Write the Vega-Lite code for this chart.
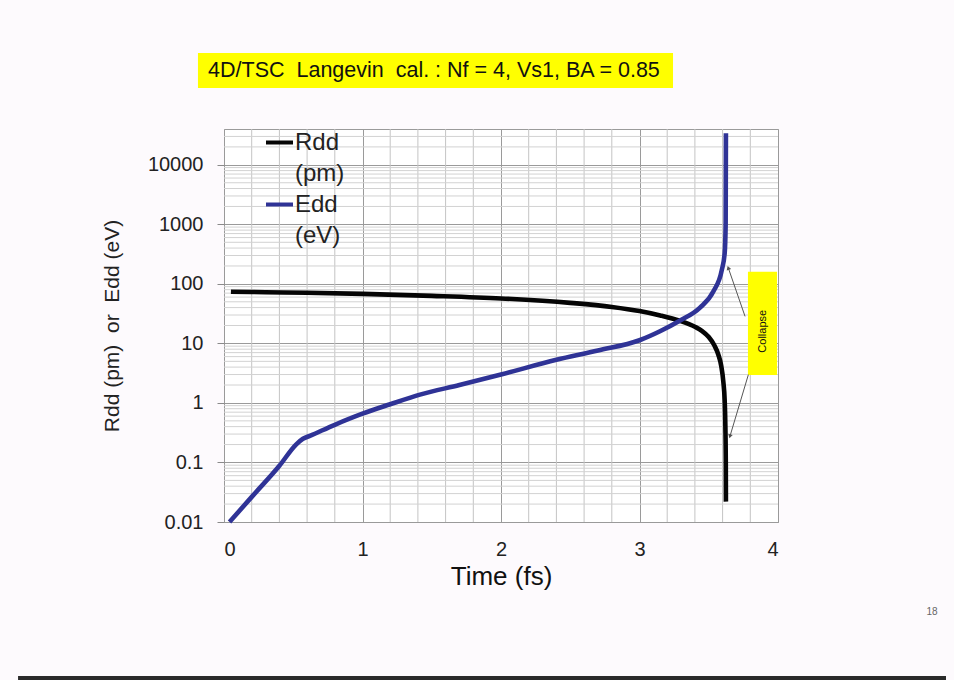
{
  "$schema": "https://vega.github.io/schema/vega-lite/v6.json",
  "width": 554,
  "height": 393,
  "autosize": {"type": "none"},
  "padding": {"left": 224, "top": 129, "right": 176, "bottom": 158},
  "background": "#fdfafd",
  "view": {"fill": "#ffffff", "stroke": "#9a9a9a", "strokeWidth": 1},
  "config": {"font": "Liberation Sans"},
  "datasets": {
    "curves": [
      {"series": "Rdd (pm)", "t": 0.05, "v": 74},
      {"series": "Rdd (pm)", "t": 0.3, "v": 72.5},
      {"series": "Rdd (pm)", "t": 0.6, "v": 71},
      {"series": "Rdd (pm)", "t": 1.0, "v": 68},
      {"series": "Rdd (pm)", "t": 1.5, "v": 63},
      {"series": "Rdd (pm)", "t": 2.0, "v": 57},
      {"series": "Rdd (pm)", "t": 2.5, "v": 48},
      {"series": "Rdd (pm)", "t": 2.8, "v": 41},
      {"series": "Rdd (pm)", "t": 3.0, "v": 35},
      {"series": "Rdd (pm)", "t": 3.15, "v": 29.5},
      {"series": "Rdd (pm)", "t": 3.29, "v": 24},
      {"series": "Rdd (pm)", "t": 3.4, "v": 19},
      {"series": "Rdd (pm)", "t": 3.45, "v": 16.3},
      {"series": "Rdd (pm)", "t": 3.5, "v": 12.8},
      {"series": "Rdd (pm)", "t": 3.54, "v": 9.3},
      {"series": "Rdd (pm)", "t": 3.57, "v": 6.4},
      {"series": "Rdd (pm)", "t": 3.59, "v": 4.2},
      {"series": "Rdd (pm)", "t": 3.605, "v": 2.3},
      {"series": "Rdd (pm)", "t": 3.615, "v": 1.1},
      {"series": "Rdd (pm)", "t": 3.62, "v": 0.4},
      {"series": "Rdd (pm)", "t": 3.623, "v": 0.1},
      {"series": "Rdd (pm)", "t": 3.624, "v": 0.022},
      {"series": "Edd (eV)", "t": 0.04, "v": 0.01},
      {"series": "Edd (eV)", "t": 0.21, "v": 0.028},
      {"series": "Edd (eV)", "t": 0.4, "v": 0.088},
      {"series": "Edd (eV)", "t": 0.52, "v": 0.2},
      {"series": "Edd (eV)", "t": 0.57, "v": 0.25},
      {"series": "Edd (eV)", "t": 0.62, "v": 0.28},
      {"series": "Edd (eV)", "t": 0.8, "v": 0.43},
      {"series": "Edd (eV)", "t": 1.0, "v": 0.66},
      {"series": "Edd (eV)", "t": 1.2, "v": 0.95},
      {"series": "Edd (eV)", "t": 1.415, "v": 1.38},
      {"series": "Edd (eV)", "t": 1.7, "v": 2.0},
      {"series": "Edd (eV)", "t": 2.0, "v": 3.0},
      {"series": "Edd (eV)", "t": 2.4, "v": 5.3},
      {"series": "Edd (eV)", "t": 2.7, "v": 7.6},
      {"series": "Edd (eV)", "t": 3.0, "v": 11.3},
      {"series": "Edd (eV)", "t": 3.148, "v": 16},
      {"series": "Edd (eV)", "t": 3.29, "v": 24},
      {"series": "Edd (eV)", "t": 3.437, "v": 40},
      {"series": "Edd (eV)", "t": 3.534, "v": 75},
      {"series": "Edd (eV)", "t": 3.594, "v": 170},
      {"series": "Edd (eV)", "t": 3.615, "v": 330},
      {"series": "Edd (eV)", "t": 3.622, "v": 1000},
      {"series": "Edd (eV)", "t": 3.624, "v": 34000}
    ],
    "xminor": [
      {"t": 0.2}, {"t": 0.4}, {"t": 0.6}, {"t": 0.8},
      {"t": 1.2}, {"t": 1.4}, {"t": 1.6}, {"t": 1.8},
      {"t": 2.2}, {"t": 2.4}, {"t": 2.6}, {"t": 2.8},
      {"t": 3.2}, {"t": 3.4}, {"t": 3.6}, {"t": 3.8}
    ],
    "yminor": [
      {"v": 0.02}, {"v": 0.03}, {"v": 0.04}, {"v": 0.05}, {"v": 0.06}, {"v": 0.07}, {"v": 0.08}, {"v": 0.09},
      {"v": 0.2}, {"v": 0.3}, {"v": 0.4}, {"v": 0.5}, {"v": 0.6}, {"v": 0.7}, {"v": 0.8}, {"v": 0.9},
      {"v": 2}, {"v": 3}, {"v": 4}, {"v": 5}, {"v": 6}, {"v": 7}, {"v": 8}, {"v": 9},
      {"v": 20}, {"v": 30}, {"v": 40}, {"v": 50}, {"v": 60}, {"v": 70}, {"v": 80}, {"v": 90},
      {"v": 200}, {"v": 300}, {"v": 400}, {"v": 500}, {"v": 600}, {"v": 700}, {"v": 800}, {"v": 900},
      {"v": 2000}, {"v": 3000}, {"v": 4000}, {"v": 5000}, {"v": 6000}, {"v": 7000}, {"v": 8000}, {"v": 9000},
      {"v": 20000}, {"v": 30000}
    ],
    "boxes": [
      {"name": "title", "t1": -0.188, "t2": 3.242, "v1": 195300, "v2": 756000},
      {"name": "collapse", "t1": 3.783, "t2": 3.993, "v1": 2.95, "v2": 160}
    ],
    "labels": [
      {"name": "title", "t": -0.115, "v": 376700, "text": "4D/TSC \u00a0Langevin \u00a0cal. : Nf = 4, Vs1, BA = 0.85"}
    ],
    "side": [
      {"t": 3.892, "v": 16, "text": "Collapse"}
    ],
    "arrows": [
      {"name": "up", "t1": 3.762, "v1": 28.5, "t2": 3.641, "v2": 186},
      {"name": "down", "t1": 3.786, "v1": 2.99, "t2": 3.653, "v2": 0.275}
    ],
    "page": [
      {"t": 5.112, "v": 0.000308, "text": "18"}
    ],
    "bar": [
      {"t1": -1.487, "t2": 5.213, "v": 0.000024}
    ]
  },
  "layer": [
    {
      "data": {"name": "xminor"},
      "mark": {"type": "rule", "color": "#c4c4c4", "strokeWidth": 1},
      "encoding": {
        "x": {"field": "t", "type": "quantitative", "scale": {"domain": [0, 4], "nice": false, "zero": false}}
      }
    },
    {
      "data": {"name": "yminor"},
      "mark": {"type": "rule", "color": "#d2d2d2", "strokeWidth": 1},
      "encoding": {
        "y": {"field": "v", "type": "quantitative", "scale": {"type": "log", "domain": [0.01, 40000], "nice": false}}
      }
    },
    {
      "data": {"name": "curves"},
      "mark": {"type": "line", "strokeWidth": 4.6, "interpolate": "monotone", "clip": false},
      "encoding": {
        "x": {
          "field": "t", "type": "quantitative",
          "scale": {"domain": [0, 4], "nice": false, "zero": false},
          "axis": {
            "values": [0, 1, 2, 3, 4], "format": "d", "grid": true, "gridColor": "#9a9a9a", "domain": false, "ticks": false,
            "labelFontSize": 20, "labelColor": "#222", "labelPadding": 17, "labelFont": "Liberation Sans",
            "title": "Time (fs)", "titleFontSize": 26, "titleFontWeight": "normal", "titleColor": "#111", "titlePadding": 4, "titleFont": "Liberation Sans"
          }
        },
        "y": {
          "field": "v", "type": "quantitative",
          "scale": {"type": "log", "domain": [0.01, 40000], "nice": false},
          "axis": {
            "values": [0.01, 0.1, 1, 10, 100, 1000, 10000], "format": "~g", "grid": true, "gridColor": "#9a9a9a", "domain": false,
            "ticks": true, "tickSize": 7, "tickColor": "#8a8a8a", "labelFontSize": 20, "labelColor": "#222", "labelPadding": 14, "labelFont": "Liberation Sans",
            "title": "Rdd (pm) \u00a0or \u00a0Edd (eV)", "titleFontSize": 21, "titleFontWeight": "normal", "titleColor": "#222", "titlePadding": 25, "titleFont": "Liberation Sans"
          }
        },
        "color": {
          "field": "series", "type": "nominal",
          "scale": {"domain": ["Rdd (pm)", "Edd (eV)"], "range": ["#050505", "#2f3396"]},
          "legend": {
            "title": null, "orient": "none", "legendX": 40, "legendY": -2,
            "symbolType": "stroke", "symbolSize": 729, "symbolStrokeWidth": 4,
            "labelFontSize": 24, "labelFont": "Liberation Sans", "labelColor": "#222",
            "labelExpr": "split(datum.label, ' ')", "labelOffset": 0, "rowPadding": 3, "padding": 0, "labelBaseline": "middle",
            "encode": {"labels": {"update": {"lineHeight": {"value": 31}}}}
          }
        }
      }
    },
    {
      "data": {"name": "boxes"},
      "mark": {"type": "rect", "color": "#ffff00", "clip": false},
      "encoding": {
        "x": {"field": "t1", "type": "quantitative"},
        "x2": {"field": "t2"},
        "y": {"field": "v1", "type": "quantitative"},
        "y2": {"field": "v2"}
      }
    },
    {
      "data": {"name": "labels"},
      "mark": {"type": "text", "align": "left", "baseline": "middle", "fontSize": 21.5, "font": "Liberation Sans", "color": "#111", "clip": false},
      "encoding": {
        "x": {"field": "t", "type": "quantitative"},
        "y": {"field": "v", "type": "quantitative"},
        "text": {"field": "text"}
      }
    },
    {
      "data": {"name": "side"},
      "mark": {"type": "text", "align": "center", "baseline": "middle", "angle": 270, "fontSize": 11, "font": "Liberation Sans", "color": "#111", "clip": false},
      "encoding": {
        "x": {"field": "t", "type": "quantitative"},
        "y": {"field": "v", "type": "quantitative"},
        "text": {"field": "text"}
      }
    },
    {
      "data": {"name": "arrows"},
      "mark": {"type": "rule", "color": "#555", "strokeWidth": 1, "clip": false},
      "encoding": {
        "x": {"field": "t1", "type": "quantitative"},
        "x2": {"field": "t2"},
        "y": {"field": "v1", "type": "quantitative"},
        "y2": {"field": "v2"}
      }
    },
    {
      "data": {"name": "arrows"},
      "transform": [{"filter": "datum.name === 'up'"}],
      "mark": {"type": "point", "shape": "triangle-up", "filled": true, "color": "#555", "size": 22, "angle": 341, "opacity": 1, "clip": false},
      "encoding": {
        "x": {"field": "t2", "type": "quantitative"},
        "y": {"field": "v2", "type": "quantitative"}
      }
    },
    {
      "data": {"name": "arrows"},
      "transform": [{"filter": "datum.name === 'down'"}],
      "mark": {"type": "point", "shape": "triangle-up", "filled": true, "color": "#555", "size": 22, "angle": 196, "opacity": 1, "clip": false},
      "encoding": {
        "x": {"field": "t2", "type": "quantitative"},
        "y": {"field": "v2", "type": "quantitative"}
      }
    },
    {
      "data": {"name": "page"},
      "mark": {"type": "text", "align": "center", "baseline": "middle", "fontSize": 10, "font": "Liberation Sans", "color": "#666", "clip": false},
      "encoding": {
        "x": {"field": "t", "type": "quantitative"},
        "y": {"field": "v", "type": "quantitative"},
        "text": {"field": "text"}
      }
    },
    {
      "data": {"name": "bar"},
      "mark": {"type": "rule", "color": "#2a2a2a", "strokeWidth": 4, "clip": false},
      "encoding": {
        "x": {"field": "t1", "type": "quantitative"},
        "x2": {"field": "t2"},
        "y": {"field": "v", "type": "quantitative"}
      }
    }
  ]
}
